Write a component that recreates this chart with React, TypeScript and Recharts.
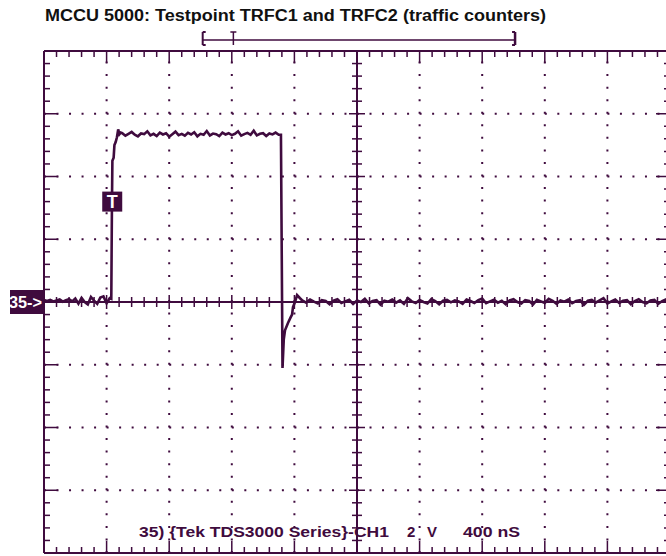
import React from 'react';
import { LineChart, Line, XAxis, YAxis, ReferenceLine, ReferenceDot } from 'recharts';

const INK = '#3f0b3e';

// Scope settings: 400 nS/div over 10 divisions, 2 V/div over 8 divisions
const nsPerDiv = 400;
const voltsPerDiv = 2;
const xDivs = 10;
const yDivs = 8;
const minorPerDiv = 5;

const title = 'MCCU 5000: Testpoint TRFC1 and TRFC2 (traffic counters)';
const footerSource = '35) {Tek TDS3000 Series}-CH1';
const footerVolts = ['2', 'V'];
const footerTime = '400 nS';
const groundLabel = '35->';
const triggerLabel = 'T';

// CH1 samples before the trigger, every 20 ns from 0 ns
const preTrigger = [
  0.06, 0.03, 0.07, 0.02, 0.05, 0.08, 0.01, 0.06, 0.09, 0.02, 0.11,
  -0.05, 0.13, 0.0, -0.08, 0.16, 0.04, -0.06, 0.14, 0.18, -0.04, 0.12,
];

// rising edge [ns, V]
const risingEdge = [
  [430, 0.1], [434, 3.0], [437, 4.5], [445, 4.6], [450, 5.0],
  [458, 5.1], [466, 5.25], [474, 5.5], [482, 5.35], [490, 5.4],
];

// pulse top, every 20 ns from 500 ns
const pulseTop = [
  5.38, 5.30, 5.36, 5.42, 5.33, 5.28, 5.37, 5.35, 5.44, 5.31,
  5.36, 5.29, 5.40, 5.34, 5.38, 5.27, 5.35, 5.43, 5.32, 5.36,
  5.30, 5.39, 5.34, 5.41, 5.28, 5.36, 5.33, 5.45, 5.31, 5.37,
  5.35, 5.29, 5.40, 5.34, 5.38, 5.32, 5.36, 5.44, 5.30, 5.35,
  5.39, 5.33, 5.46, 5.31, 5.36, 5.38, 5.29, 5.37, 5.34, 5.40,
  5.33,
];

// falling edge with undershoot [ns, V]
const fallingEdge = [
  [1514, 5.33], [1524, -2.1], [1532, -1.2], [1540, -0.9], [1559, -0.67],
  [1575, -0.5], [1585, -0.4], [1591, -0.16], [1604, 0.0], [1617, 0.22],
  [1636, 0.12],
];

// settled baseline, every 25 ns from 1650 ns
const afterPulse = [
  0.05, -0.02, 0.08, 0.01, -0.05, 0.06, 0.03, -0.07, 0.04, 0.09,
  -0.03, 0.02, 0.07, -0.06, 0.05, 0.0, 0.1, -0.04, 0.03, 0.06,
  -0.08, 0.04, 0.01, 0.08, -0.02, 0.05, -0.06, 0.12, 0.02, -0.03,
  0.06, 0.0, -0.05, 0.09, 0.03, -0.07, 0.04, 0.07, -0.01, 0.05,
  0.02, -0.06, 0.08, 0.03, -0.03, 0.06, 0.11, -0.04, 0.02, 0.07,
  -0.02, 0.04, -0.07, 0.05, 0.09, 0.0, -0.05, 0.06, 0.03, -0.08,
  0.07, 0.02, -0.03, 0.1, 0.04, -0.06, 0.05, 0.01, 0.08, -0.04,
  0.03, 0.06, -0.09, 0.04, 0.07, -0.02, 0.05, 0.12, -0.05, 0.02,
  0.08, -0.03, 0.04, 0.06, -0.07, 0.03, 0.09, 0.0, -0.04, 0.05,
  0.07, -0.06, 0.03, 0.08, 0.01,
];

// record position indicator above the screen [start, end] in ns, and its trigger mark
const recordWindow = [1014, 3010];
const recordTrigger = 1210;
// trigger point on the waveform
const triggerPoint = { t: 436, v: 3.2 };

const sampled = (start: number, step: number, values: number[]) =>
  values.map((v, i) => ({ t: start + i * step, v }));
const pairs = (list: number[][]) => list.map(([t, v]) => ({ t, v }));

const trace = [
  ...sampled(0, 20, preTrigger),
  ...pairs(risingEdge),
  ...sampled(500, 20, pulseTop),
  ...pairs(fallingEdge),
  ...sampled(1650, 25, afterPulse),
];

const tMax = nsPerDiv * xDivs;
const vMax = (voltsPerDiv * yDivs) / 2;
const tCenter = tMax / 2;

// plot box in pixels
const PLOT_LEFT = 44;
const PLOT_TOP = 51;
const PLOT_W = 626;
const PLOT_H = 502;
const CHART_W = 680;
const CHART_H = 556;
const pxT = tMax / PLOT_W;
const pxV = (2 * vMax) / PLOT_H;

const minorT: number[] = [];
for (let i = 1; i < xDivs * minorPerDiv; i++) minorT.push((i * nsPerDiv) / minorPerDiv);
const minorV: number[] = [];
for (let i = 1; i < yDivs * minorPerDiv; i++) minorV.push(-vMax + (i * voltsPerDiv) / minorPerDiv);
const isMajorT = (t: number) => Math.abs(t / nsPerDiv - Math.round(t / nsPerDiv)) < 1e-6;
const isMajorV = (v: number) => Math.abs(v / voltsPerDiv - Math.round(v / voltsPerDiv)) < 1e-6;
const majorT = minorT.filter((t) => isMajorT(t) && t !== tCenter);
const majorV = minorV.filter((v) => isMajorV(v) && Math.abs(v) > 1e-6);

const dotH = PLOT_W / (xDivs * minorPerDiv);
const dotV = PLOT_H / (yDivs * minorPerDiv);

const seg = (key: string, a: [number, number], b: [number, number], width = 1.5, overflow = false) => (
  <ReferenceLine
    key={key}
    segment={[{ x: a[0], y: a[1] }, { x: b[0], y: b[1] }]}
    stroke={INK}
    strokeWidth={width}
    ifOverflow={overflow ? 'visible' : 'extendDomain'}
  />
);

const GroundMarker = (props: any) => {
  const { cx, cy } = props;
  return (
    <g>
      <rect x={cx - 34} y={cy - 12} width={34} height={24} fill={INK} />
      <text x={cx - 35} y={cy + 6} fill="#fff" fontFamily="Liberation Sans, Arial, sans-serif" fontWeight="bold" fontSize={16} textLength={33} lengthAdjust="spacingAndGlyphs">
        {groundLabel}
      </text>
    </g>
  );
};

const TriggerMarker = (props: any) => {
  const { cx, cy } = props;
  return (
    <g>
      <rect x={cx - 10} y={cy - 10} width={20} height={20} fill={INK} />
      <text x={cx} y={cy + 6.5} textAnchor="middle" fill="#fff" fontFamily="Liberation Sans, Arial, sans-serif" fontWeight="bold" fontSize={18}>
        {triggerLabel}
      </text>
    </g>
  );
};

export default function App() {
  const ticks: React.ReactNode[] = [];
  // border ticks pointing inward, plus ticks along the centre cross
  minorT.forEach((t) => {
    const len = isMajorT(t) ? 12 : 6;
    ticks.push(seg(`tt${t}`, [t, vMax], [t, vMax - len * pxV]));
    ticks.push(seg(`tb${t}`, [t, -vMax], [t, -vMax + len * pxV]));
    const h = isMajorT(t) ? 7 : 5;
    ticks.push(seg(`tc${t}`, [t, -h * pxV], [t, h * pxV]));
  });
  minorV.forEach((v) => {
    const len = isMajorV(v) ? 14 : 6;
    ticks.push(seg(`vl${v}`, [0, v], [len * pxT, v]));
    ticks.push(seg(`vr${v}`, [tMax, v], [tMax - len * pxT, v]));
    const h = isMajorV(v) ? 8 : 5;
    ticks.push(seg(`vc${v}`, [tCenter - h * pxT, v], [tCenter + h * pxT, v]));
  });

  const top = vMax + 11 * pxV;
  const capHi = vMax + 19 * pxV;
  const capLo = vMax + 6 * pxV;
  const foot = 3 * pxT;

  return (
    <div style={{ position: 'absolute', left: 0, top: 0, width: 666, height: 556, overflow: 'hidden', background: '#fff' }}>
      <LineChart
        width={CHART_W}
        height={CHART_H}
        data={trace}
        margin={{ top: PLOT_TOP, left: PLOT_LEFT, right: CHART_W - PLOT_LEFT - PLOT_W, bottom: CHART_H - PLOT_TOP - PLOT_H }}
      >
        <XAxis dataKey="t" type="number" domain={[0, tMax]} hide allowDataOverflow />
        <YAxis type="number" domain={[-vMax, vMax]} hide allowDataOverflow />

        {majorT.map((t) => (
          <ReferenceLine key={`gx${t}`} x={t} stroke={INK} strokeWidth={2} strokeDasharray={`2 ${dotV - 2}`} />
        ))}
        {majorV.map((v) => (
          <ReferenceLine key={`gy${v}`} y={v} stroke={INK} strokeWidth={2} strokeDasharray={`2 ${dotH - 2}`} />
        ))}
        <ReferenceLine x={tCenter} stroke={INK} strokeWidth={2} />
        <ReferenceLine y={0} stroke={INK} strokeWidth={2} />
        {ticks}
        {seg('bt', [0, vMax], [tMax, vMax], 2)}
        {seg('bb', [0, -vMax], [tMax, -vMax], 2)}
        {seg('bl', [0, -vMax], [0, vMax], 2)}
        {seg('br', [tMax, -vMax], [tMax, vMax], 2)}

        {/* record position indicator */}
        {seg('rw', [recordWindow[0], top], [recordWindow[1], top], 1.5, true)}
        {seg('rl', [recordWindow[0], capHi], [recordWindow[0], capLo], 2, true)}
        {seg('rlt', [recordWindow[0], capHi], [recordWindow[0] + foot, capHi], 2, true)}
        {seg('rlb', [recordWindow[0], capLo], [recordWindow[0] + foot, capLo], 2, true)}
        {seg('rr', [recordWindow[1], capHi], [recordWindow[1], capLo], 2.5, true)}
        {seg('rrt', [recordWindow[1], capHi], [recordWindow[1] - foot, capHi], 2, true)}
        {seg('rrb', [recordWindow[1], capLo], [recordWindow[1] - foot, capLo], 2, true)}
        {seg('rt', [recordTrigger, capHi], [recordTrigger, capLo], 1.5, true)}
        {seg('rtb', [recordTrigger - foot, capHi], [recordTrigger + foot, capHi], 1.5, true)}

        <Line type="linear" dataKey="v" stroke={INK} strokeWidth={2.6} dot={false} activeDot={false} isAnimationActive={false} />

        <ReferenceDot x={0} y={0} r={1} ifOverflow="visible" shape={GroundMarker} />
        <ReferenceDot x={triggerPoint.t} y={triggerPoint.v} r={1} ifOverflow="visible" shape={TriggerMarker} />
      </LineChart>

      <svg width={666} height={556} style={{ position: 'absolute', left: 0, top: 0, pointerEvents: 'none' }}>
        <text x={45} y={21} fill="#111" fontFamily="Liberation Sans, Arial, sans-serif" fontWeight="bold" fontSize={16} textLength={501} lengthAdjust="spacingAndGlyphs">
          {title}
        </text>
        <g fill={INK} fontFamily="Liberation Sans, Arial, sans-serif" fontWeight="bold" fontSize={15}>
          <text x={139} y={537} textLength={250} lengthAdjust="spacingAndGlyphs">{footerSource}</text>
          <text x={407} y={537}>{footerVolts[0]}</text>
          <text x={427} y={537}>{footerVolts[1]}</text>
          <text x={463} y={537} textLength={57} lengthAdjust="spacingAndGlyphs">{footerTime}</text>
        </g>
      </svg>
    </div>
  );
}
